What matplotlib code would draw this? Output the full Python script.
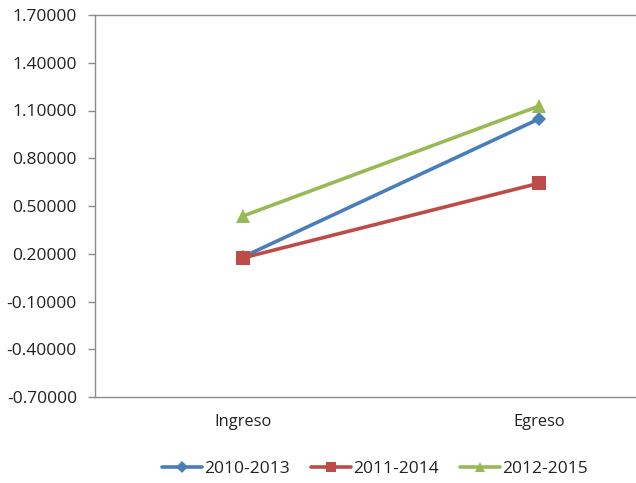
import matplotlib
matplotlib.use("Agg")
import matplotlib.pyplot as plt
import numpy as np

categories = ["Ingreso", "Egreso"]
series_names = ["2010-2013", "2011-2014", "2012-2015"]
s2010_2013 = [0.18, 1.047]
s2011_2014 = [0.174, 0.643]
s2012_2015 = [0.437, 1.128]
y_ticks = [-0.7, -0.4, -0.1, 0.2, 0.5, 0.8, 1.1, 1.4, 1.7]

plt.rcParams['font.family'] = ['Open Sans', 'DejaVu Sans']

W, H = 636, 483
fig = plt.figure(figsize=(W/100, H/100), dpi=100)
left, right, top, bottom = 95, 687, 15, 397
ax = fig.add_axes([left/W, 1 - bottom/H, (right-left)/W, (bottom-top)/H])

x = np.arange(len(categories))
styles = [
    (s2010_2013, "#4A7EBB", "D", 7.5),
    (s2011_2014, "#BE4B48", "s", 9.5),
    (s2012_2015, "#98B954", "^", 10),
]
for (vals, col, mk, ms), name in zip(styles, series_names):
    ax.plot(x, vals, color=col, lw=2.6, marker=mk, markersize=ms,
            markeredgewidth=0, label=name, solid_capstyle='round')

ax.set_xlim(-0.5, 1.5)
ax.set_ylim(-0.7, 1.7)
ax.set_yticks(y_ticks)
ax.set_yticklabels([f"{v:.5f}" for v in y_ticks], fontsize=12.5, color="#222222")
ax.set_xticks(x)
ax.set_xticklabels(categories, fontsize=11.8, color="#222222")
ax.tick_params(axis='x', length=0, pad=12)
ax.tick_params(axis='y', direction='out', length=5, width=1, color="#8C8C8C", pad=8)
for s in ['left', 'bottom', 'top']:
    ax.spines[s].set_color("#8C8C8C")
    ax.spines[s].set_linewidth(1.0)
ax.spines['right'].set_visible(False)
ax.set_facecolor('white')

leg = fig.legend(loc='center', bbox_to_anchor=(375/W, 1 - 469/H), ncol=3,
                 frameon=False, fontsize=12.5, handlelength=2.3,
                 handletextpad=0.15, columnspacing=1.2, markerscale=0.75)
for t in leg.get_texts():
    t.set_color("#222222")

fig.savefig("out.png", dpi=100)
